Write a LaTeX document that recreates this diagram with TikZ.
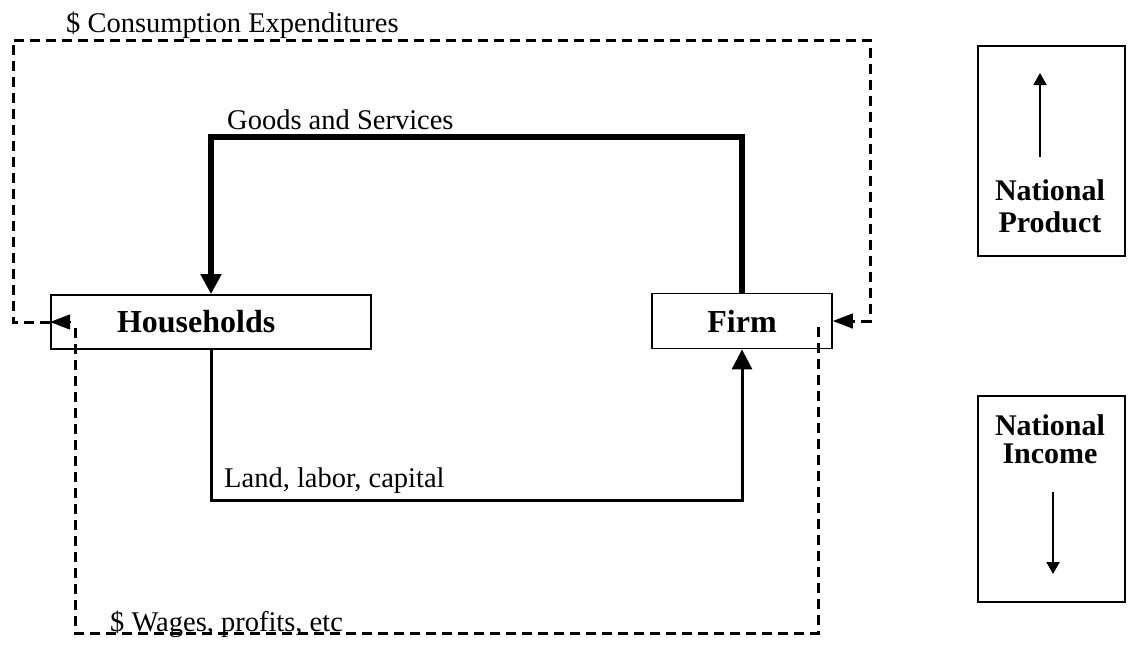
\documentclass[tikz,border=0pt]{standalone}
\usepackage{fontspec}
\setmainfont{Liberation Serif}
\usetikzlibrary{arrows.meta}
\begin{document}
\begin{tikzpicture}[x=1pt,y=-1pt,
  sector/.style={draw, line width=1.8pt, inner sep=0pt, font=\fontsize{32}{34}\selectfont\bfseries},
  natbox/.style={draw, line width=1.8pt, inner sep=0pt, minimum width=147pt},
  nattext/.style={inner sep=0pt, anchor=base, font=\fontsize{30}{31}\selectfont\bfseries},
  lbl/.style={inner sep=0pt, anchor=base west, font=\fontsize{28.5}{30}\selectfont},
  goods/.style={line width=6pt, line join=miter, -{Triangle[length=20pt,width=20pt]}},
  factors/.style={line width=3pt, line join=miter, -{Triangle[length=20pt,width=20pt]}},
  money/.style={line width=3pt, dash pattern=on 10pt off 6pt},
  moneytip/.style={-{Triangle[length=20pt,width=15pt]}},
  natarrow/.style={line width=2pt, -{Triangle[length=12pt,width=13pt]}}]
\path[use as bounding box] (0,0) rectangle (1128,645);

% sector boxes
\node[sector, minimum width=320pt, minimum height=54pt] (hh) at (211,322) {\hbox to 288pt{\hspace*{50pt}Households\hfil}};
\node[sector, minimum width=180pt, minimum height=55pt] (firm) at (742,321) {Firm};

% goods and services (real flow, top)
\coordinate (g1) at (742,137);
\coordinate (g2) at (211,137);
\draw[goods] (firm.north) -- (g1) -- (g2) -- (hh.north);
\node[lbl] (gl) at (227,129) {Goods and Services};

% land, labor, capital (real flow, bottom)
\coordinate (f1) at (211,500);
\coordinate (f2) at (742,500);
\draw[factors] (hh.south) -- (f1) -- (f2) -- (firm.south);
\node[lbl] (fl) at (224,487) {Land, labor, capital};

% consumption expenditures (money flow, outer top)
\coordinate (c1) at (13,322);
\coordinate (c2) at (13,40);
\coordinate (c3) at (870,40);
\coordinate (c4) at (870,321);
\draw[money] (hh.west) -- (c1) -- (c2) -- (c3) -- (c4) -- ([xshift=19pt]firm.east);
\draw[line width=1.5pt, moneytip] ([xshift=20pt]firm.east) -- (firm.east);
\draw[line width=1.5pt, moneytip] ([xshift=20pt]hh.west) -- (hh.west);
\node[lbl] (cl) at (66,32) {\$ Consumption Expenditures};

% wages, profits (money flow, outer bottom)
\coordinate (w0) at (75,328);
\coordinate (w1) at (75,633);
\coordinate (w2) at (818,633);
\coordinate (w3) at (818,326);
\draw[money] (w0) -- (w1) -- (w2) -- (w3);
\node[lbl] (wl) at (110,631) {\$ Wages, profits, etc};

% national product
\node[natbox, minimum height=210pt] (np) at (1051.5,151) {};
\node[nattext] (npt1) at (1050,200) {National};
\node[nattext] (npt2) at (1050,232) {Product};
\coordinate (npa) at (1040,157);
\coordinate (npb) at (1040,73);
\draw[natarrow] (npa) -- (npb);

% national income
\node[natbox, minimum height=206pt] (ni) at (1051.5,499) {};
\node[nattext] (nit1) at (1050,435) {National};
\node[nattext] (nit2) at (1050,463) {Income};
\coordinate (nia) at (1053,492);
\coordinate (nib) at (1053,574);
\draw[natarrow] (nia) -- (nib);
\end{tikzpicture}
\end{document}
